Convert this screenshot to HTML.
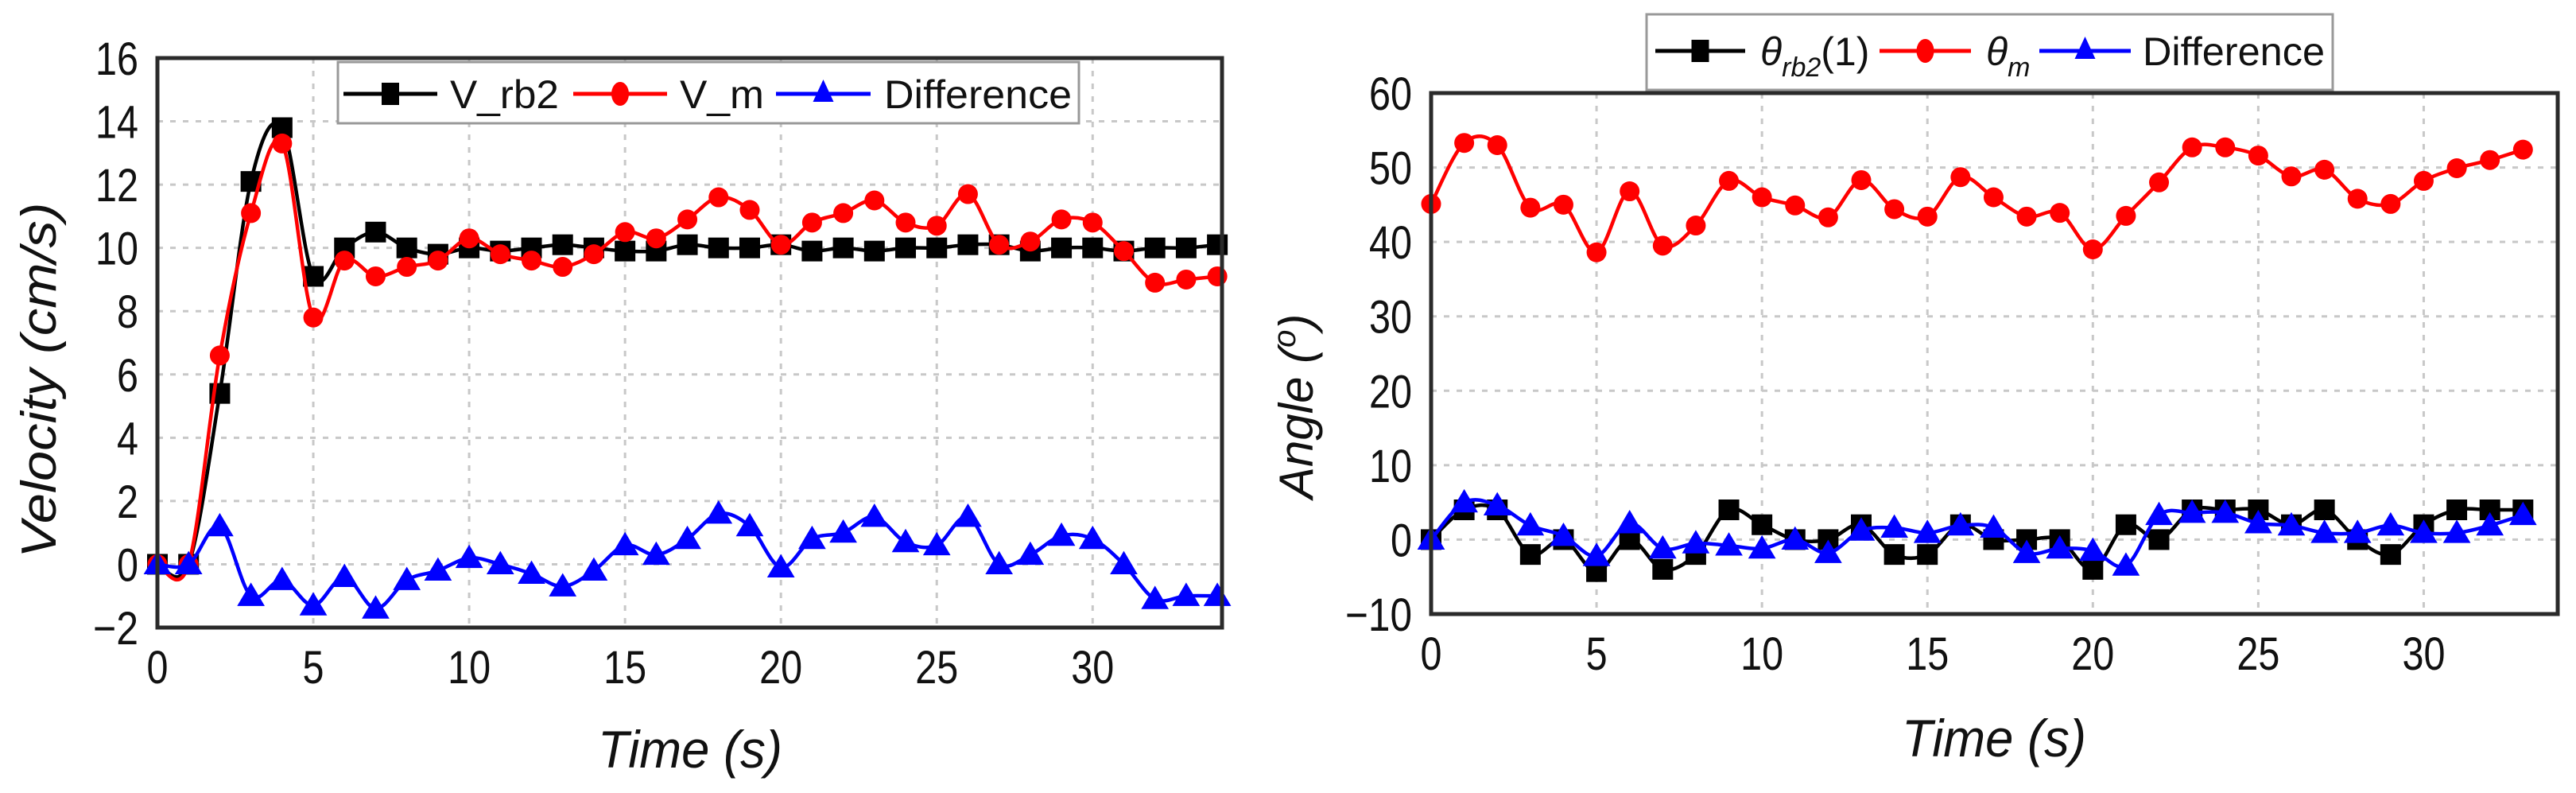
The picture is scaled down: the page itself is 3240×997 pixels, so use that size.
<!DOCTYPE html>
<html><head><meta charset="utf-8"><style>
html,body{margin:0;padding:0;background:#fff}
svg{display:block}
text{font-family:"Liberation Sans Narrow","Liberation Sans",sans-serif;fill:#111}
.it{font-family:"Liberation Sans",sans-serif;font-style:italic}
</style></head><body>
<svg id="fig" width="3240" height="997" viewBox="0 0 3240 997" xmlns="http://www.w3.org/2000/svg">
<g id="left"></g>
<g id="right"></g>
</svg>
<script>
// ---- Left chart data ----
const velTime = [0,1,2,3,4,5,6,7,8,9,10,11,12,13,14,15,16,17,18,19,20,21,22,23,24,25,26,27,28,29,30,31,32,33,34];
const vRb2 = [0,0,5.4,12.1,13.8,9.1,10,10.5,10,9.8,10,9.9,10,10.1,10,9.9,9.9,10.1,10,10,10.1,9.9,10,9.9,10,10,10.1,10.1,9.9,10,10,9.9,10,10,10.1];
const vM = [0,0,6.6,11.1,13.3,7.8,9.6,9.1,9.4,9.6,10.3,9.8,9.6,9.4,9.8,10.5,10.3,10.9,11.6,11.2,10.1,10.8,11.1,11.5,10.8,10.7,11.7,10.1,10.2,10.9,10.8,9.9,8.9,9,9.1];
const vDiff = [0,0,1.2,-1,-0.5,-1.3,-0.4,-1.4,-0.5,-0.2,0.2,0,-0.3,-0.7,-0.2,0.6,0.3,0.8,1.6,1.2,-0.1,0.8,1,1.5,0.7,0.6,1.5,0,0.3,0.9,0.8,0,-1.1,-1,-1];
const velYTicks = [-2,0,2,4,6,8,10,12,14,16];
const velXTicks = [0,5,10,15,20,25,30];
// ---- Right chart data ----
const angTime = [0,1,2,3,4,5,6,7,8,9,10,11,12,13,14,15,16,17,18,19,20,21,22,23,24,25,26,27,28,29,30,31,32,33];
const thRb2 = [0,4,4,-2,0,-4.3,0,-4,-2,4,2,0,0,2,-2,-2,2,0,0,0,-4,2,0,4,4,4,2,4,0,-2,2,4,4,4];
const thM = [45.1,53.3,53,44.6,45,38.6,46.8,39.5,42.2,48.2,46,44.9,43.3,48.3,44.4,43.4,48.7,46,43.4,43.9,39,43.5,48,52.7,52.7,51.6,48.8,49.7,45.8,45.1,48.2,49.9,51,52.4];
const thDiff = [0,5,4.6,1.9,0.5,-2.2,2.2,-1.2,-0.5,-0.8,-1.2,0,-1.8,1.2,1.6,0.9,1.9,1.6,-1.8,-1.2,-1.5,-3.5,3.3,3.6,3.6,2.2,1.9,0.9,0.9,1.9,0.9,0.9,1.9,3.3];
const angYTicks = [-10,0,10,20,30,40,50,60];
const angXTicks = [0,5,10,15,20,25,30];

const NS = "http://www.w3.org/2000/svg";
function mk(parent, tag, attrs, txt){
  const e = document.createElementNS(NS, tag);
  for (const k in attrs) e.setAttribute(k, attrs[k]);
  if (txt !== undefined) e.textContent = txt;
  parent.appendChild(e);
  return e;
}
function spline(pts){
  let d = "M" + pts[0][0] + "," + pts[0][1];
  for (let i = 0; i < pts.length - 1; i++){
    const p0 = pts[Math.max(0,i-1)], p1 = pts[i], p2 = pts[i+1], p3 = pts[Math.min(pts.length-1,i+2)];
    const c1x = p1[0] + (p2[0]-p0[0])/6, c1y = p1[1] + (p2[1]-p0[1])/6;
    const c2x = p2[0] - (p3[0]-p1[0])/6, c2y = p2[1] - (p3[1]-p1[1])/6;
    d += " C" + c1x + "," + c1y + " " + c2x + "," + c2y + " " + p2[0] + "," + p2[1];
  }
  return d;
}
function marker(g, kind, x, y, color, s){
  let m;
  if (kind === "sq") m = mk(g, "rect", {x:x-s/2, y:y-s/2, width:s, height:s, fill:color});
  else if (kind === "ci") m = mk(g, "circle", {cx:x, cy:y, r:s/2, fill:color});
  else m = mk(g, "polygon", {points:(x)+","+(y-s*0.6)+" "+(x-s*0.62)+","+(y+s*0.45)+" "+(x+s*0.62)+","+(y+s*0.45), fill:color});
  return m;
}

function chart(g, cfg){
  const sx = v => cfg.x0 + (v - cfg.xmin) / (cfg.xmax - cfg.xmin) * (cfg.x1 - cfg.x0);
  const sy = v => cfg.y1 - (v - cfg.ymin) / (cfg.ymax - cfg.ymin) * (cfg.y1 - cfg.y0);
  cfg.yTicks.forEach(t => {
    const y = sy(t);
    if (t !== cfg.ymin && t !== cfg.ymax){
      const l = mk(g, "line", {x1:cfg.x0, x2:cfg.x1, y1:y, y2:y, stroke:"#c8c8c8", "stroke-width":3, "stroke-dasharray":"7,9"});
      
      
    }
    const s = t < 0 ? "\u2212" + Math.abs(t) : String(t);
    const w = (t < 0 ? 30 : 0) + String(Math.abs(t)).length * 27;
    const tl = mk(g, "text", {x:cfg.x0 - 24, y:y + 21, "text-anchor":"end", "font-size":58, textLength:w, lengthAdjust:"spacingAndGlyphs"}, s);
    
    
  });
  cfg.xTicks.forEach(t => {
    const x = sx(t);
    if (t !== cfg.xmin){
      const l = mk(g, "line", {x1:x, x2:x, y1:cfg.y0, y2:cfg.y1, stroke:"#c8c8c8", "stroke-width":3, "stroke-dasharray":"7,9"});
      
      
    }
    const tl = mk(g, "text", {x:x, y:cfg.y1 + 70, "text-anchor":"middle", "font-size":58, textLength:String(t).length*27, lengthAdjust:"spacingAndGlyphs"}, String(t));
    
    
  });
  cfg.series.forEach(s => {
    const pts = cfg.time.map((t,i) => [sx(t), sy(s.vals[i])]);
    const p = mk(g, "path", {d:spline(pts), fill:"none", stroke:s.color, "stroke-width":4.5, "stroke-linejoin":"round"});
    
    
    pts.forEach(pt => {
      const m = marker(g, s.kind, pt[0], pt[1], s.color, s.size);
      
      
    });
  });
  const f = mk(g, "rect", {x:cfg.x0, y:cfg.y0, width:cfg.x1-cfg.x0, height:cfg.y1-cfg.y0, fill:"none", stroke:"#2a2a2a", "stroke-width":5});
  
  
  return {sx, sy};
}

const L = document.getElementById("left");
chart(L, {x0:198, x1:1537, y0:73, y1:789, xmin:0, xmax:34.15, ymin:-2, ymax:16,
  yTicks:velYTicks, xTicks:velXTicks, time:velTime,
  series:[
    {name:"v-rb2", vals:vRb2, color:"#000", kind:"sq", size:26},
    {name:"v-m", vals:vM, color:"#f00", kind:"ci", size:25},
    {name:"velocity-difference", vals:vDiff, color:"#0000ff", kind:"tr", size:28}
  ]});
const R = document.getElementById("right");
chart(R, {x0:1800, x1:3217, y0:117, y1:772, xmin:0, xmax:34.05, ymin:-10, ymax:60,
  yTicks:angYTicks, xTicks:angXTicks, time:angTime,
  series:[
    {name:"theta-rb2", vals:thRb2, color:"#000", kind:"sq", size:26},
    {name:"theta-m", vals:thM, color:"#f00", kind:"ci", size:25},
    {name:"angle-difference", vals:thDiff, color:"#0000ff", kind:"tr", size:28}
  ]});
</script>
<script>
(function(){
const svg = document.getElementById("fig");
const NS = "http://www.w3.org/2000/svg";
function mk(tag, attrs, txt){
  const e = document.createElementNS(NS, tag);
  for (const k in attrs) e.setAttribute(k, attrs[k]);
  if (txt !== undefined) e.textContent = txt;
  svg.appendChild(e);
  return e;
}
let t = mk("text", {x:868, y:965, "text-anchor":"middle", "font-size":66, class:"it", textLength:232, lengthAdjust:"spacingAndGlyphs"}, "Time (s)");


t = mk("text", {x:2508, y:951, "text-anchor":"middle", "font-size":66, class:"it", textLength:232, lengthAdjust:"spacingAndGlyphs"}, "Time (s)");


t = mk("text", {x:0, y:0, "text-anchor":"middle", "font-size":62, class:"it", textLength:447, lengthAdjust:"spacingAndGlyphs", transform:"translate(70,478) rotate(-90)"}, "Velocity (cm/s)");


t = mk("text", {x:0, y:0, "text-anchor":"start", "font-size":60, class:"it", transform:"translate(1651,627) rotate(-90)"}, "");


t.appendChild(document.createTextNode("Angle ("));
let sup = document.createElementNS(NS, "tspan"); sup.setAttribute("dy", "-22"); sup.setAttribute("font-size", "40"); sup.textContent = "o"; t.appendChild(sup);
let cl = document.createElementNS(NS, "tspan"); cl.setAttribute("dy", "22"); cl.textContent = ")"; t.appendChild(cl);

function legendBox(x, y, w, h, name){
  const r = mk("rect", {x:x, y:y, width:w, height:h, fill:"#fff", stroke:"#999", "stroke-width":3});
  
  
}
function legendKey(x1, x2, cy, color, kind, name){
  const l = mk("line", {x1:x1, x2:x2, y1:cy, y2:cy, stroke:color, "stroke-width":5});
  
  
  const cx = (x1+x2)/2; let m;
  if (kind === "sq") m = mk("rect", {x:cx-11, y:cy-14, width:22, height:28, fill:color});
  else if (kind === "ci") m = mk("ellipse", {cx:cx, cy:cy, rx:11, ry:15, fill:color});
  else m = mk("polygon", {points:cx+","+(cy-18)+" "+(cx-13)+","+(cy+10)+" "+(cx+13)+","+(cy+10), fill:color});
  
  
}
function legendText(x, y, w, s, name){
  const e = mk("text", {x:x, y:y, "font-size":50, textLength:w, lengthAdjust:"spacingAndGlyphs"}, s);
  
  
  return e;
}
legendBox(425, 78, 932, 77, "velocity-legend");
legendKey(432, 550, 118, "#000", "sq", "v-rb2");
legendText(566, 136, 137, "V_rb2", "legend-label-v-rb2");
legendKey(721, 839, 118, "#f00", "ci", "v-m");
legendText(855, 136, 106, "V_m", "legend-label-v-m");
legendKey(976, 1095, 118, "#0000ff", "tr", "velocity-difference");
legendText(1112, 136, 236, "Difference", "legend-label-velocity-difference");

legendBox(2071, 18, 863, 95, "angle-legend");
legendKey(2082, 2195, 64, "#000", "sq", "theta-rb2");
let th = legendText(2214, 82, 134, "", "legend-label-theta-rb2");
th.removeAttribute("textLength");
th.innerHTML = '<tspan font-style="italic">θ</tspan><tspan font-style="italic" font-size="34" dy="14">rb2</tspan><tspan dy="-14">(1)</tspan>';
legendKey(2364, 2479, 64, "#f00", "ci", "theta-m");
let tm = legendText(2498, 82, 52, "", "legend-label-theta-m");
tm.removeAttribute("textLength");
tm.innerHTML = '<tspan font-style="italic">θ</tspan><tspan font-style="italic" font-size="34" dy="14">m</tspan>';
legendKey(2565, 2680, 64, "#0000ff", "tr", "angle-difference");
legendText(2695, 82, 229, "Difference", "legend-label-angle-difference");
})();
</script>
</body></html>
